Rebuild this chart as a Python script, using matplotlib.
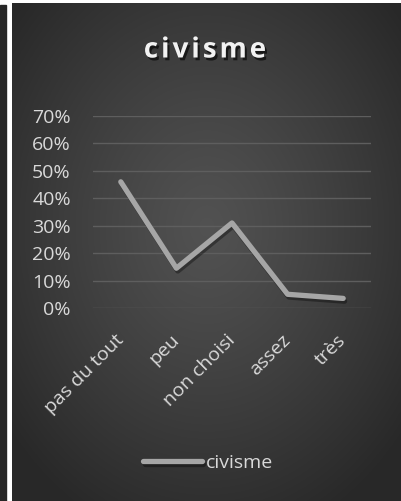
import numpy as np
import matplotlib
matplotlib.use("Agg")
import matplotlib.pyplot as plt
import matplotlib.patheffects as pe
from matplotlib.patches import Rectangle
from matplotlib.ticker import PercentFormatter

# data
categories = ["pas du tout", "peu", "non choisi", "assez", "très"]
civisme = [0.46, 0.145, 0.31, 0.05, 0.035]
yticks = [0, 0.1, 0.2, 0.3, 0.4, 0.5, 0.6, 0.7]
title = "civisme"

plt.rcParams['font.family'] = ['Open Sans', 'DejaVu Sans']

W, H = 402, 501
fig = plt.figure(figsize=(W / 100, H / 100), dpi=100, facecolor='white')

# left dark strip
fig.patches.append(Rectangle((0, 0), 6 / W, 496 / H, transform=fig.transFigure,
                             color='#262626', zorder=0))

# dark panel with radial gradient
bg = fig.add_axes([12 / W, 0, (W - 12) / W, 498 / H], zorder=0)
gx, gy = np.meshgrid(np.linspace(-1, 1, 300), np.linspace(-1, 1, 380))
r = np.sqrt(gx ** 2 + (gy + 0.1) ** 2)
r = np.clip(r / 1.3, 0, 1)
c0, c1 = 0.32, 0.16
img = c0 + (c1 - c0) * r ** 1.2
bg.imshow(np.dstack([img, img, img]), aspect='auto', extent=[0, 1, 0, 1])
bg.set_axis_off()

ax = fig.add_axes([93 / W, 1 - 308 / H, 278 / W, 192 / H], zorder=1)
ax.patch.set_alpha(0)

x = np.arange(len(categories))
ax.plot(x, civisme, color='#a6a6a6', linewidth=3.8, solid_capstyle='round',
        solid_joinstyle='round', label='civisme',
        path_effects=[pe.SimpleLineShadow(offset=(1, -2), shadow_color='black', alpha=0.35),
                      pe.Normal()])

ax.set_xlim(-0.5, len(categories) - 0.5)
ax.set_ylim(0, 0.7)
ax.set_yticks(yticks)
ax.yaxis.set_major_formatter(PercentFormatter(1.0, decimals=0))
ax.grid(axis='y', color='#5e5e5e', linewidth=1)
ax.set_axisbelow(True)
for s in ax.spines.values():
    s.set_visible(False)
ax.tick_params(length=0, labelcolor='#d9d9d9', labelsize=14)
ax.tick_params(axis='y', pad=16)
ax.set_xticks(x)
ax.set_xticklabels(categories, rotation=45, ha='right', va='center', rotation_mode='anchor')
ax.tick_params(axis='x', pad=21)

# title with letter spacing
renderer = fig.canvas.get_renderer()
tkw = dict(color='#f2f2f2', fontsize=20, fontweight='bold', va='center', ha='left')
shadow = [pe.SimplePatchShadow(offset=(1.5, -2), shadow_rgbFace='black', alpha=0.6), pe.Normal()]
spacing = 3
texts = [fig.text(0, 1 - 50 / H, ch, **tkw) for ch in title]
widths = [t.get_window_extent(renderer).width for t in texts]
total = sum(widths) + spacing * (len(title) - 1)
xpos = 205 - total / 2
for t, w in zip(texts, widths):
    t.set_x(xpos / W)
    t.set_path_effects(shadow)
    xpos += w + spacing

leg = fig.legend(loc='center', bbox_to_anchor=(208 / W, 1 - 463 / H), frameon=False,
                 fontsize=14, labelcolor='#d9d9d9', handlelength=3.0, handletextpad=0.2)

fig.savefig('out.png', dpi=100, facecolor='white')
